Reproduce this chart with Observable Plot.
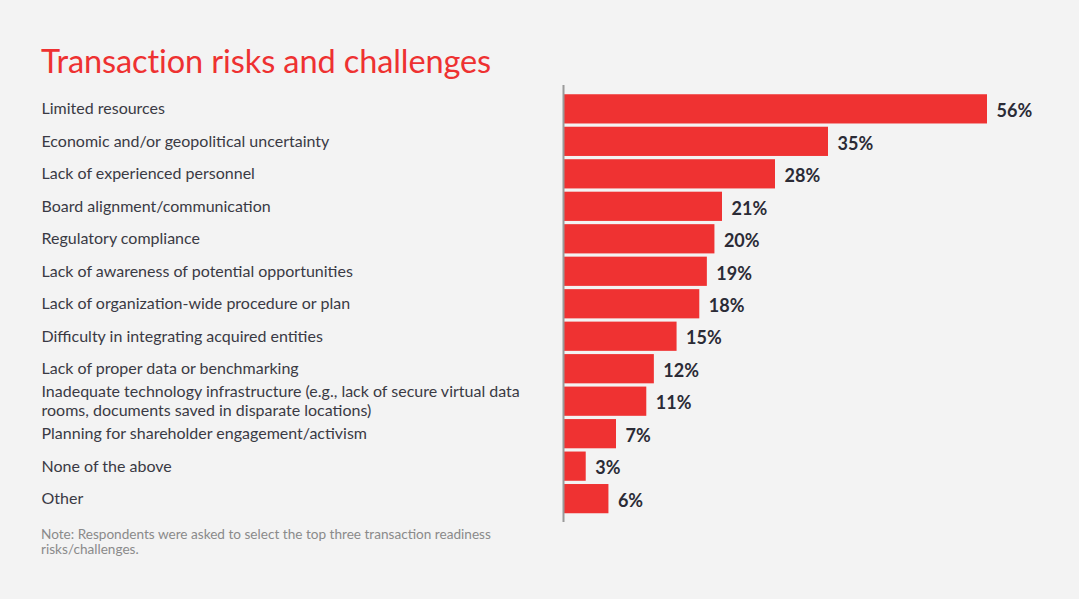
<!DOCTYPE html>
<html>
<head>
<meta charset="utf-8">
<script src="https://cdn.jsdelivr.net/npm/d3@7"></script>
<script src="https://cdn.jsdelivr.net/npm/@observablehq/plot@0.6"></script>
<style>
  html, body { margin: 0; padding: 0; background: #f3f3f3; width: 1079px; height: 599px; overflow: hidden; }
  body { position: relative; font-family: Lato, "Noto Sans", sans-serif; }
  #title { position: absolute; left: 41px; top: 45px; font-size: 32.5px; color: #ee3131; font-weight: 400; letter-spacing: -0.1px; line-height: 1; white-space: nowrap; }
  #chart { position: absolute; left: 0; top: 80px; line-height: 0; }
  #chart svg { display: block; }
  #note { position: absolute; left: 41px; top: 527px; font-size: 13.6px; color: #8a8a8a; line-height: 15px; width: 490px; }
</style>
</head>
<body>
<div id="title">Transaction risks and challenges</div>
<div id="chart"></div>
<div id="note">Note: Respondents were asked to select the top three transaction readiness risks/challenges.</div>
<script>
const categories = [
  "Limited resources",
  "Economic and/or geopolitical uncertainty",
  "Lack of experienced personnel",
  "Board alignment/communication",
  "Regulatory compliance",
  "Lack of awareness of potential opportunities",
  "Lack of organization-wide procedure or plan",
  "Difficulty in integrating acquired entities",
  "Lack of proper data or benchmarking",
  "Inadequate technology infrastructure (e.g., lack of secure virtual data\nrooms, documents saved in disparate locations)",
  "Planning for shareholder engagement/activism",
  "None of the above",
  "Other"
];
const values = [56, 35, 28, 21, 20, 19, 18, 15, 12, 11, 7, 3, 6];

const data = categories.map((c, i) => ({category: c, value: values[i]}));

const chart = Plot.plot({
  width: 1079,
  height: 450,
  marginLeft: 563,
  marginRight: 92,
  marginTop: 11,
  marginBottom: 450 - (516.5 - 80),
  style: {background: "transparent", fontFamily: "Lato, 'Noto Sans', sans-serif"},
  x: {domain: [0, 56], axis: null},
  y: {domain: categories, padding: 0.1, round: false, axis: null},
  marks: [
    Plot.barX(data, {x: "value", y: "category", fill: "#ef3232"}),
    Plot.ruleX([0], {stroke: "#9a9a9a", strokeWidth: 2, insetTop: -6, insetBottom: -5.5}),
    Plot.text(data, {x: "value", y: "category", text: d => d.value + "%", textAnchor: "start", dx: 9, dy: 2, fontSize: 18, fontWeight: "bold", fill: "#2b2b36"}),
    Plot.text(data, {y: "category", text: "category", frameAnchor: "left", textAnchor: "start", dx: -522, dy: -1, fontSize: 16, fill: "#3a3a44", lineHeight: 1.15})
  ]
});
document.getElementById("chart").appendChild(chart);
</script>
</body>
</html>
